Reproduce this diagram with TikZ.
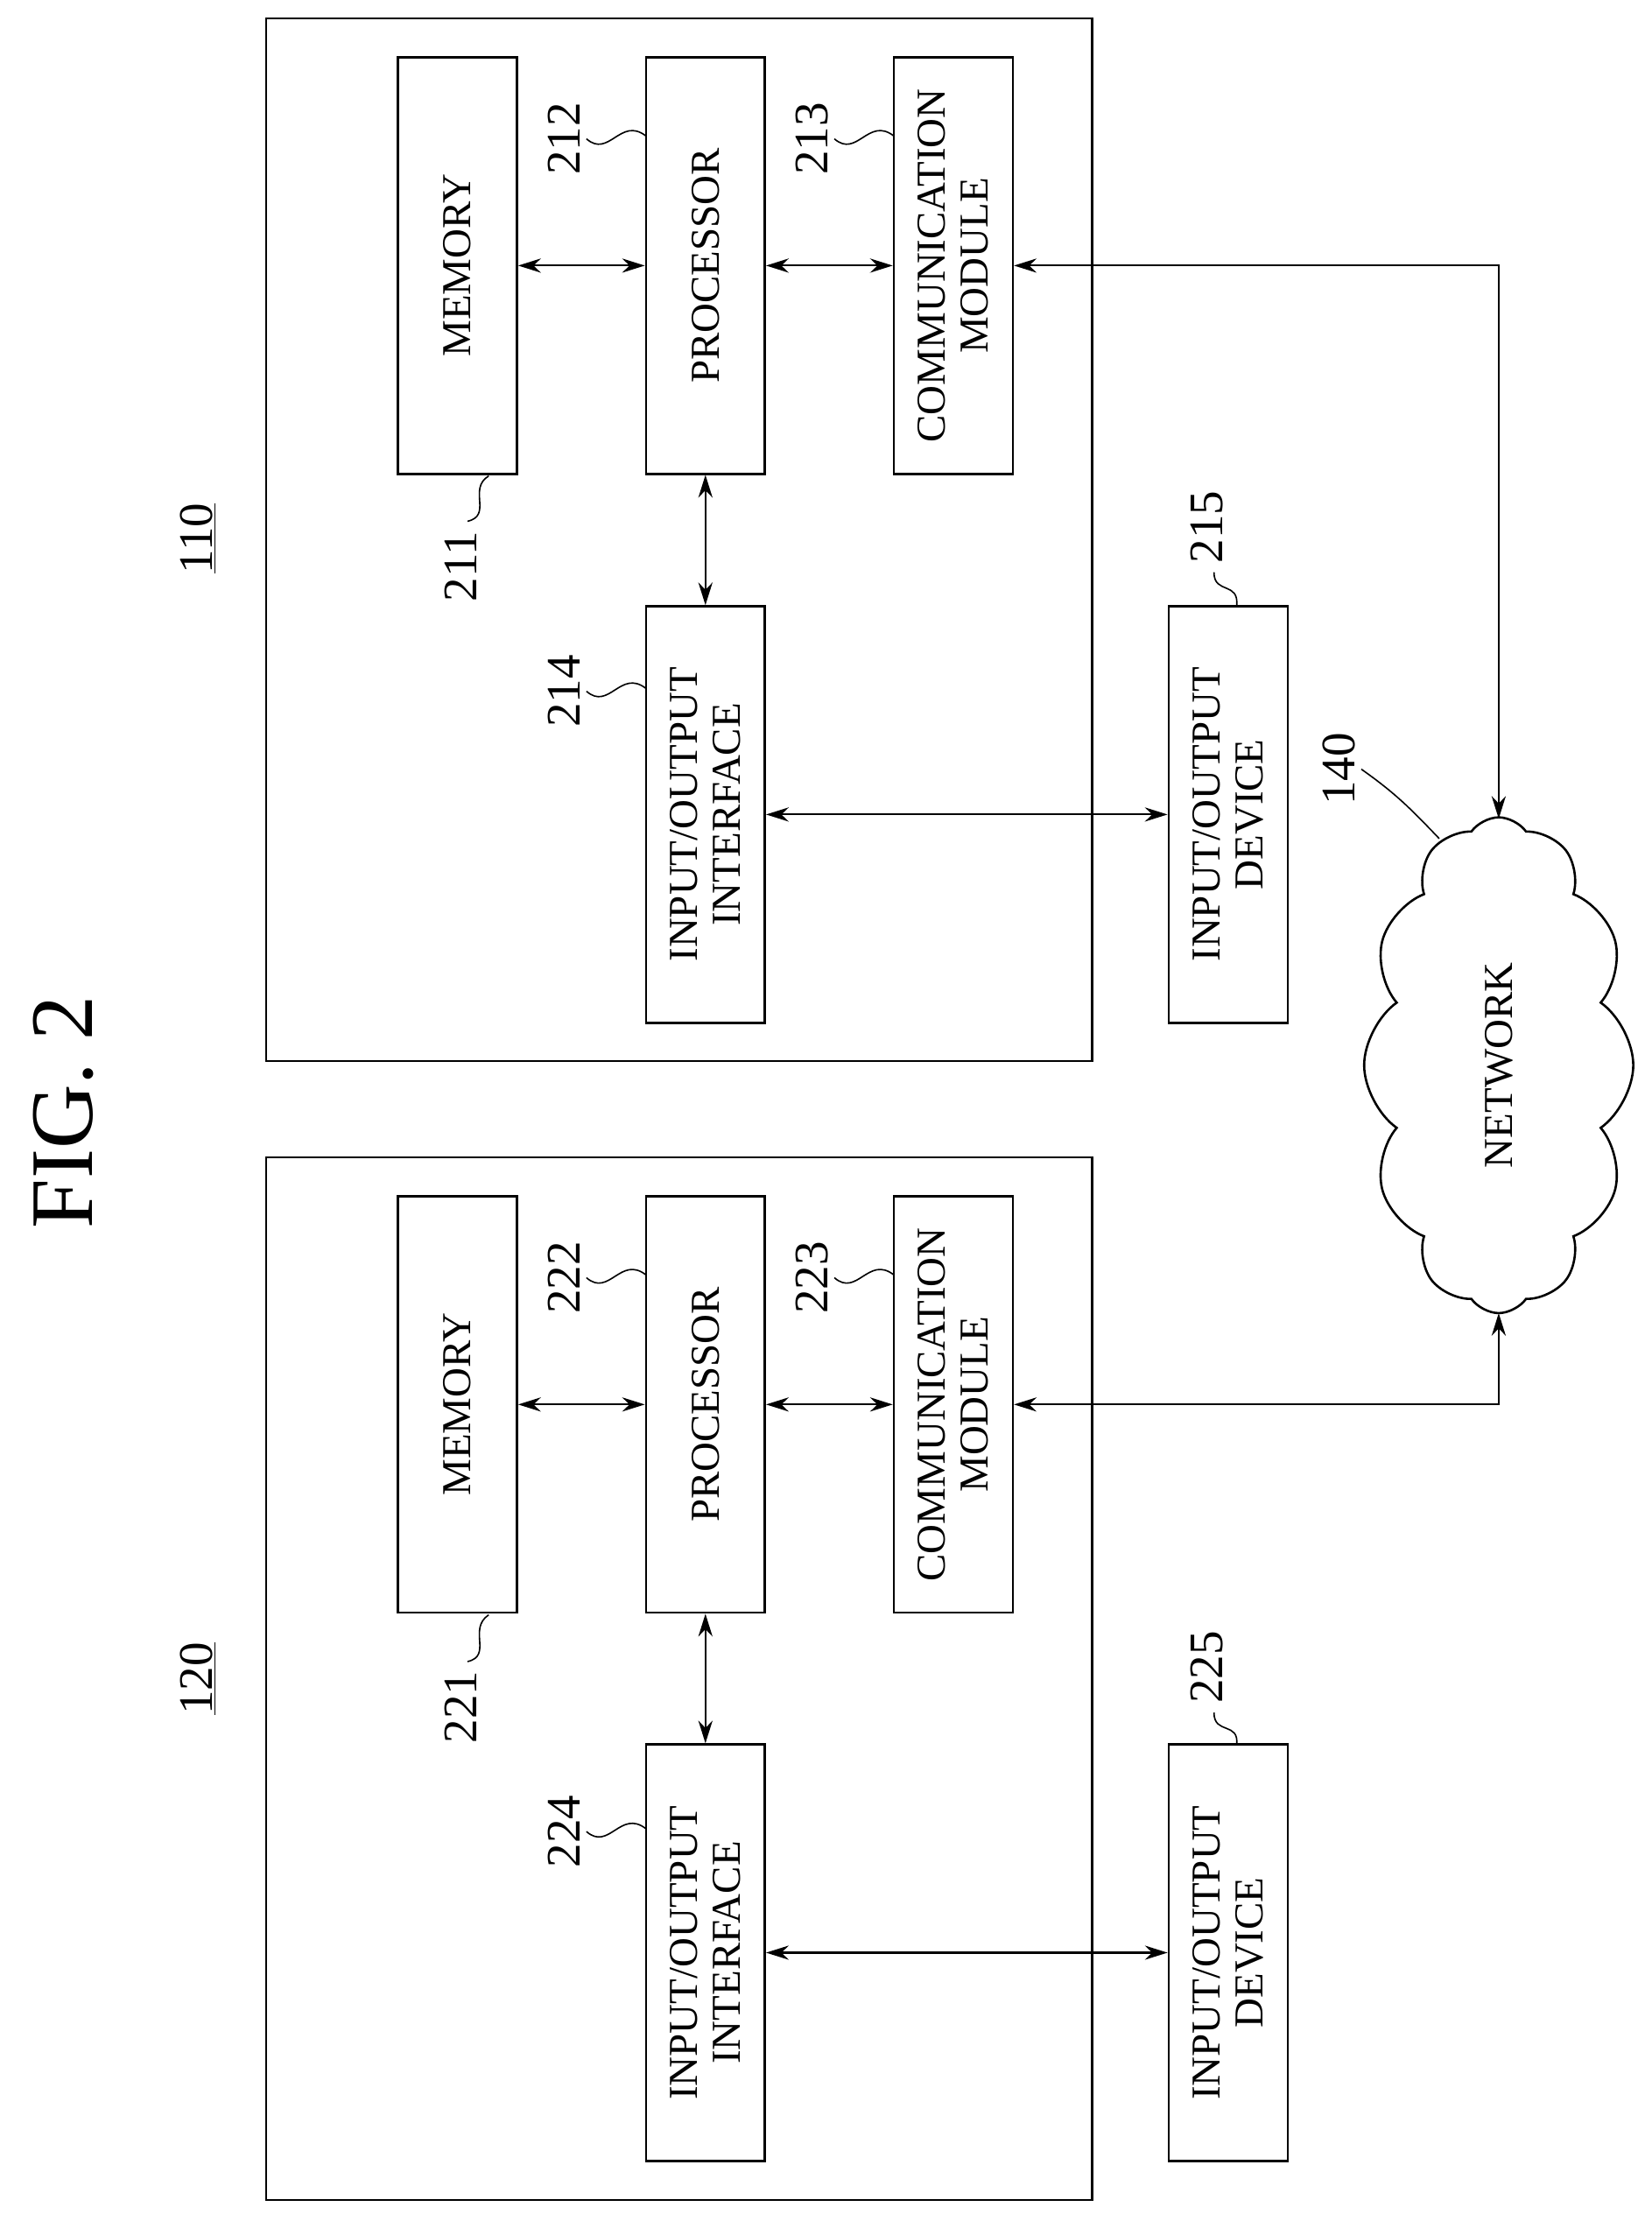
\documentclass[tikz,border=0pt]{standalone}
\usepackage{fontspec}
\setmainfont{Liberation Serif}
\usetikzlibrary{shapes.symbols,arrows.meta}
\begin{document}
\begin{tikzpicture}[x=1pt,y=-1pt,
 box/.style={draw,line width=1.6pt,minimum width=294pt,minimum height=84pt,rotate=90,align=center,font=\fontsize{29}{30}\selectfont,inner sep=0pt},
 outer/.style={draw,line width=1.6pt},
 arr/.style={line width=1.3pt,{Stealth[length=16pt,width=10pt]}-{Stealth[length=16pt,width=10pt]}},
 num/.style={rotate=90,font=\fontsize{34}{36}\selectfont,inner sep=1pt},
 sq/.style={line width=1pt}]
\useasboundingbox (0,0) rectangle (1166,1563);
\node[rotate=90,font=\fontsize{63}{65}\selectfont] (fig) at (45,785) {FIG. 2};
\draw[outer] (188,13) rectangle (771,749);
\draw[outer] (188,817) rectangle (771,1553);
\node[num] (l110) at (140,380) {\underline{110}};
\node[num] (l120) at (140,1185) {\underline{120}};
% system 110
\node[box] (m1) at (323,187.5) {MEMORY};
\node[box] (p1) at (498,187.5) {PROCESSOR};
\node[box] (c1) at (673,187.5) {COMMUNICATION\\MODULE};
\node[box] (i1) at (498,575) {INPUT/OUTPUT\\INTERFACE};
\node[box] (d1) at (867,575) {INPUT/OUTPUT\\DEVICE};
% system 120
\node[box] (m2) at (323,991.5) {MEMORY};
\node[box] (p2) at (498,991.5) {PROCESSOR};
\node[box] (c2) at (673,991.5) {COMMUNICATION\\MODULE};
\node[box] (i2) at (498,1378.5) {INPUT/OUTPUT\\INTERFACE};
\node[box] (d2) at (867,1378.5) {INPUT/OUTPUT\\DEVICE};
% cloud
\node[cloud,draw,line width=1.6pt,cloud puffs=12,cloud puff arc=110,aspect=1.9,minimum width=350pt,minimum height=190pt,rotate=90,inner sep=0pt] (net) at (1058,752) {};
\node[rotate=90,font=\fontsize{29}{30}\selectfont] (nl) at (1058,752) {NETWORK};
% arrows
\draw[arr] (m1.south) -- (p1.north);
\draw[arr] (p1.south) -- (c1.north);
\draw[arr] (p1.west) -- (i1.east);
\draw[arr] (i1.south) -- (d1.north);
\draw[arr] (m2.south) -- (p2.north);
\draw[arr] (p2.south) -- (c2.north);
\draw[arr] (p2.west) -- (i2.east);
\draw[arr] (i2.south) -- (d2.north);
\coordinate (t1) at (1058,187.5);
\coordinate (t2) at (1058,991.5);
\draw[arr] (c1.south) -- (t1) -- (1058,578);
\draw[arr] (c2.south) -- (t2) -- (1058,927);
% reference numerals
\node[num] (n211) at (325,400) {211};
\draw[sq] (330,368) .. controls (348,364) and (330,345) .. (345,336);
\node[num] (n212) at (398,98) {212};
\draw[sq] (414,98) .. controls (430,112) and (438,82) .. (456,96);
\node[num] (n213) at (573,98) {213};
\draw[sq] (589,98) .. controls (605,112) and (613,82) .. (631,96);
\node[num] (n214) at (398,488) {214};
\draw[sq] (414,488) .. controls (430,502) and (438,472) .. (456,486);
\node[num] (n215) at (852,372) {215};
\draw[sq] (857,404) .. controls (857,420) and (875,410) .. (873,428);
\node[num] (n221) at (325,1205) {221};
\draw[sq] (330,1173) .. controls (348,1169) and (330,1150) .. (345,1140);
\node[num] (n222) at (398,902) {222};
\draw[sq] (414,902) .. controls (430,916) and (438,886) .. (456,900);
\node[num] (n223) at (573,902) {223};
\draw[sq] (589,902) .. controls (605,916) and (613,886) .. (631,900);
\node[num] (n224) at (398,1293) {224};
\draw[sq] (414,1293) .. controls (430,1307) and (438,1277) .. (456,1291);
\node[num] (n225) at (852,1177) {225};
\draw[sq] (857,1209) .. controls (857,1225) and (875,1215) .. (873,1232);
\node[num] (n140) at (945,543) {140};
\draw[sq] (961,543) .. controls (985,560) and (995,570) .. (1016,592);
\end{tikzpicture}
\end{document}
